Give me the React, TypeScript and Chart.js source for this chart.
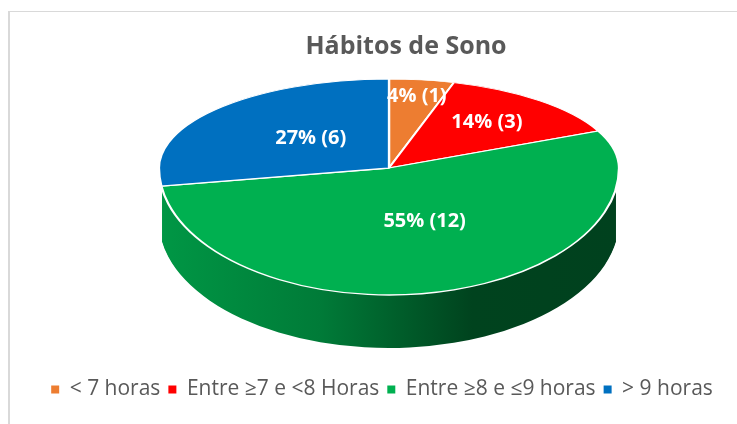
import React, { useEffect, useRef } from 'react';
import { Chart, registerables } from 'chart.js';

Chart.register(...registerables);

// ---- data ----
const chartTitle = 'Hábitos de Sono';
const categories = ['< 7 horas', 'Entre ≥7 e <8 Horas', 'Entre ≥8 e ≤9 horas', '> 9 horas'];
const counts = [1, 3, 12, 6];
const percentLabels = ['4%', '14%', '55%', '27%'];
const sliceColors = ['#ED7D31', '#FF0000', '#00B050', '#0070C0'];

function shade(hex: string, f: number) {
  const n = parseInt(hex.slice(1), 16);
  const r = Math.round(((n >> 16) & 255) * f);
  const g = Math.round(((n >> 8) & 255) * f);
  const b = Math.round((n & 255) * f);
  return `rgb(${r},${g},${b})`;
}

function drawWith(a: any, ctx: CanvasRenderingContext2D, over: any) {
  const saved = a.options;
  a.options = Object.assign({}, saved, over);
  a.draw(ctx);
  a.options = saved;
}

const pie3d = {
  id: 'pie3d',
  afterLayout(chart: any) {
    const o = chart.options.plugins.pie3d;
    const t = chart.titleBlock;
    if (t && o) {
      t.left += o.titleShift;
      t.right += o.titleShift;
    }
  },
  beforeDatasetsDraw(chart: any) {
    const o = chart.options.plugins.pie3d;
    const meta = chart.getDatasetMeta(0);
    const arcs: any[] = meta.data;
    if (!arcs.length) return;
    const ctx: CanvasRenderingContext2D = chart.ctx;
    const dpr = chart.currentDevicePixelRatio || 1;
    const cx0 = arcs[0].x, cy0 = arcs[0].y, R0 = arcs[0].outerRadius;
    const sx = o.rx / R0;
    const W = chart.width, H = chart.height;
    const setT = (sy: number, dy: number) =>
      ctx.setTransform(dpr * sx, 0, 0, dpr * sy, dpr * (o.cx - cx0 * sx), dpr * (o.cy + dy - cy0 * sy));

    const sideFills = arcs.map((_a, i) => {
      const g = ctx.createLinearGradient(cx0 - R0, 0, cx0 + R0, 0);
      o.sideShade.forEach((s: number[]) => g.addColorStop(s[0], shade(sliceColors[i], s[1])));
      return g;
    });

    // side (depth)
    for (let k = o.depth; k >= 1; k--) {
      ctx.save();
      ctx.beginPath();
      ctx.rect(0, o.cy + o.sideStart + k, W, H);
      ctx.clip();
      setT(o.ryBot / R0, k);
      arcs.forEach((a, i) => drawWith(a, ctx, { backgroundColor: sideFills[i], borderColor: sideFills[i], borderWidth: 0 }));
      ctx.restore();
    }

    // top face: back half
    ctx.save();
    ctx.beginPath();
    ctx.rect(0, 0, W, o.cy);
    ctx.clip();
    setT(o.ryTop / R0, 0);
    arcs.forEach((a) => a.draw(ctx));
    ctx.restore();

    // top face: front half
    ctx.save();
    ctx.beginPath();
    ctx.rect(0, o.cy, W, H);
    ctx.clip();
    setT(o.ryBot / R0, 0);
    arcs.forEach((a) => a.draw(ctx));
    ctx.restore();

    // data labels
    ctx.save();
    ctx.font = o.labelFont;
    ctx.fillStyle = '#FFFFFF';
    ctx.textAlign = 'center';
    ctx.textBaseline = 'middle';
    arcs.forEach((a, i) => {
      const mid = (a.startAngle + a.endAngle) / 2;
      const f = o.labelRadius[i];
      const ux = Math.cos(mid) * f[0];
      const uy = Math.sin(mid) * f[1];
      const x = o.cx + ux * o.rx;
      const y = o.cy + uy * (uy < 0 ? o.ryTop : o.ryBot);
      ctx.fillText(`${percentLabels[i]} (${counts[i]})`, x, y);
    });
    ctx.restore();
    return false;
  },
};

export default function App() {
  const ref = useRef<HTMLCanvasElement>(null);
  useEffect(() => {
    if (!ref.current) return;
    const chart = new Chart(ref.current, {
      type: 'pie',
      data: {
        labels: categories,
        datasets: [
          {
            data: counts,
            backgroundColor: sliceColors,
            borderColor: '#FFFFFF',
            borderWidth: 1.5,
          },
        ],
      },
      options: {
        responsive: false,
        animation: false,
        events: [],
        layout: { padding: { left: 27, right: 0, top: 0, bottom: 14 } },
        plugins: {
          title: {
            display: true,
            text: chartTitle,
            color: '#595959',
            font: { family: '"Open Sans", sans-serif', size: 25, weight: 'bold' },
            padding: { top: 32, bottom: 10 },
          },
          legend: {
            display: true,
            position: 'bottom',
            labels: {
              color: '#595959',
              font: { family: '"Open Sans", sans-serif', size: 21 },
              boxWidth: 8,
              boxHeight: 8,
              padding: 8,
              generateLabels: (c: any) =>
                (Chart as any).overrides.pie.plugins.legend.labels
                  .generateLabels(c)
                  .map((it: any) => ({ ...it, lineWidth: 0, strokeStyle: it.fillStyle })),
            },
          },
          tooltip: { enabled: false },
          pie3d: {
            cx: 389,
            cy: 168,
            rx: 230,
            ryTop: 89,
            ryBot: 127,
            depth: 53,
            sideStart: 20,
            titleShift: 24,
            labelRadius: [
              [0.85, 0.81],
              [0.65, 0.68],
              [0.55, 0.44],
              [0.45, 0.51],
            ],
            labelFont: 'bold 20px "Open Sans", sans-serif',
            sideShade: [
              [0, 0.86],
              [0.35, 0.7],
              [0.68, 0.38],
              [1, 0.37],
            ],
          },
        } as any,
      },
      plugins: [pie3d as any],
    });
    return () => chart.destroy();
  }, []);

  return (
    <div style={{ position: 'absolute', left: 0, top: 0, width: 737, height: 424, background: '#FFFFFF', overflow: 'hidden' }}>
      <div
        style={{
          position: 'absolute',
          left: 8,
          top: 11,
          width: 740,
          height: 420,
          borderLeft: '2px solid #D9D9D9',
          borderTop: '1px solid #D9D9D9',
        }}
      />
      <canvas ref={ref} width={737} height={424} style={{ position: 'absolute', left: 0, top: 0, width: 737, height: 424 }} />
    </div>
  );
}
